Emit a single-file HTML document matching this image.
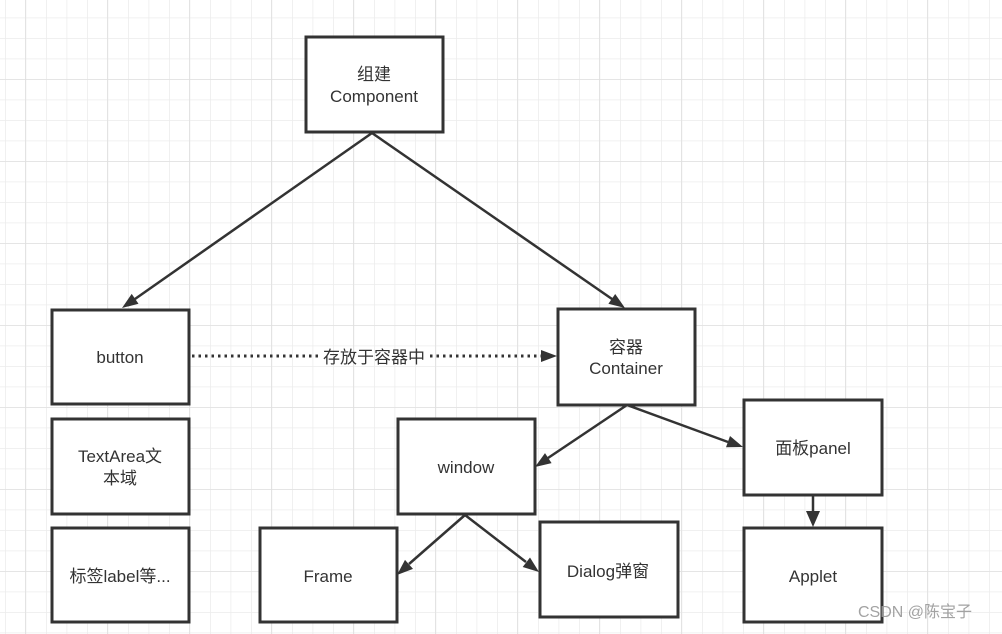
<!DOCTYPE html>
<html><head><meta charset="utf-8"><style>
html,body{margin:0;padding:0;background:#fff;}
svg{display:block;}
text{font-family:"Liberation Sans","Noto Sans CJK SC",sans-serif;font-size:17px;fill:#333;}
</style></head><body>
<svg width="1002" height="634" viewBox="0 0 1002 634" xmlns="http://www.w3.org/2000/svg">
<defs>
<pattern id="g" x="5" y="-3" width="20.5" height="20.5" patternUnits="userSpaceOnUse">
<path d="M0 0H20.5M0 0V20.5" stroke="#ececec" stroke-width="1.5" fill="none"/>
</pattern>
<pattern id="G" x="25" y="-3" width="82" height="82" patternUnits="userSpaceOnUse">
<path d="M0 0H82M0 0V82" stroke="#e0e0e0" stroke-width="1.5" fill="none"/>
</pattern>
</defs>
<rect width="1002" height="634" fill="#fff"/>
<rect width="1002" height="634" fill="url(#g)"/>
<rect width="1002" height="634" fill="url(#G)"/>
<g stroke="#333" stroke-width="2.5" fill="none">
<line x1="372" y1="133" x2="135" y2="299"/>
<line x1="372" y1="133" x2="612" y2="299"/>
<line x1="627" y1="405" x2="548" y2="458"/>
<line x1="627" y1="405" x2="728" y2="442"/>
<line x1="465" y1="515" x2="409" y2="564"/>
<line x1="465" y1="515" x2="526" y2="562"/>
<line x1="813" y1="495" x2="813" y2="512"/>
<line x1="192" y1="356" x2="320" y2="356" stroke-dasharray="2.5 4" stroke-width="3"/>
<line x1="430" y1="356" x2="542" y2="356" stroke-dasharray="2.5 4" stroke-width="3"/>
</g>
<g fill="#333">
<polygon points="122,308 138.5,303.7 131.7,293.9"/>
<polygon points="625,308 608.4,303.8 615.2,294"/>
<polygon points="535,467 551.6,463.1 545,453.1"/>
<polygon points="743,447 726,447.2 730,436"/>
<polygon points="397,575 413,568.9 405,559.9"/>
<polygon points="539,572 522.7,567 530,557.5"/>
<polygon points="813,527 806,511 820,511"/>
<polygon points="557,356 541,350 541,362"/>
</g>
<g fill="#fff" stroke="#333" stroke-width="3">
<rect x="306" y="37" width="137" height="95"/>
<rect x="52" y="310" width="137" height="94"/>
<rect x="558" y="309" width="137" height="96"/>
<rect x="52" y="419" width="137" height="95"/>
<rect x="52" y="528" width="137" height="94"/>
<rect x="398" y="419" width="137" height="95"/>
<rect x="744" y="400" width="138" height="95"/>
<rect x="260" y="528" width="137" height="94"/>
<rect x="540" y="522" width="138" height="95"/>
<rect x="744" y="528" width="138" height="94"/>
</g>
<g text-anchor="middle">
<text x="374" y="80">组建</text>
<text x="374" y="102">Component</text>
<text x="120" y="363">button</text>
<text x="374" y="363">存放于容器中</text>
<text x="626" y="353">容器</text>
<text x="626" y="374">Container</text>
<text x="120" y="462">TextArea文</text>
<text x="120" y="484">本域</text>
<text x="120" y="582">标签label等...</text>
<text x="466" y="473">window</text>
<text x="813" y="454">面板panel</text>
<text x="328" y="582">Frame</text>
<text x="608" y="577">Dialog弹窗</text>
<text x="813" y="582">Applet</text>
</g>
<text x="858" y="617" style="font-size:16px;fill:#999;opacity:0.9">CSDN @陈宝子</text>
</svg>
</body></html>
